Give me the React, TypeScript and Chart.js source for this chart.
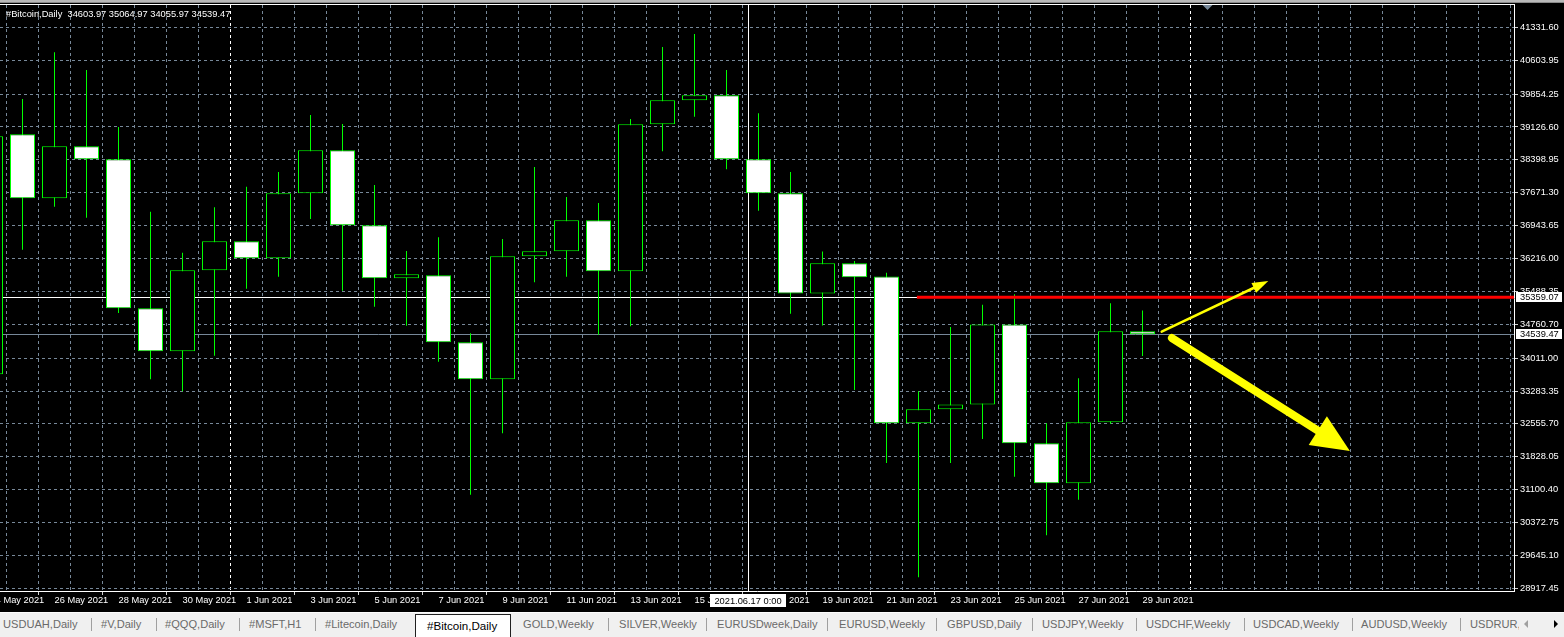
import React, { useEffect, useRef } from 'react';
import { Chart, registerables } from 'chart.js';

Chart.register(...registerables);

const FONT = '"Liberation Sans", Arial, sans-serif';

// ---------- data ----------
const dates = [
  '24 May 2021', '25 May 2021', '26 May 2021', '27 May 2021', '28 May 2021', '29 May 2021', '30 May 2021', '31 May 2021',
  '1 Jun 2021', '2 Jun 2021', '3 Jun 2021', '4 Jun 2021', '5 Jun 2021', '6 Jun 2021', '7 Jun 2021', '8 Jun 2021',
  '9 Jun 2021', '10 Jun 2021', '11 Jun 2021', '12 Jun 2021', '13 Jun 2021', '14 Jun 2021', '15 Jun 2021', '16 Jun 2021',
  '17 Jun 2021', '18 Jun 2021', '19 Jun 2021', '20 Jun 2021', '21 Jun 2021', '22 Jun 2021', '23 Jun 2021', '24 Jun 2021',
  '25 Jun 2021', '26 Jun 2021', '27 Jun 2021', '28 Jun 2021', '29 Jun 2021',
];
const opens = [
  33652, 38964, 37547, 38698, 38411, 35113, 34162, 35954,
  36596, 36220, 37658, 38610, 36950, 35777, 35844, 34361,
  33542, 36264, 36375, 37061, 35932, 39185, 39716, 39827,
  38411, 37658, 35441, 36111, 35820, 32568, 32880, 32987,
  34755, 32126, 31243, 32591, 34603.97,
];
const highs = [
  39300, 39745, 40778, 40387, 39125, 37251, 36344, 37348,
  37804, 38130, 39391, 39192, 37842, 36381, 36684, 34560,
  36647, 38240, 37576, 37444, 39302, 40896, 41183, 40387,
  39431, 38132, 36370, 36158, 35899, 33276, 34702, 35191,
  35425, 32568, 33566, 35228, 35064.97,
];
const lows = [
  33400, 36410, 37362, 37118, 35009, 33542, 33276, 34064,
  35547, 35813, 37089, 35503, 35149, 34728, 33932, 30988,
  32347, 35689, 35813, 34529, 34715, 38588, 39353, 38189,
  37273, 34992, 34733, 33307, 31692, 29163, 31692, 32219,
  31387, 30092, 30878, 32560, 34055.97,
];
const closes = [
  38919, 37547, 38698, 38411, 35113, 34162, 35954, 36596,
  36220, 37658, 38610, 36950, 35777, 35866, 34361, 33542,
  36264, 36375, 37061, 35932, 39185, 39716, 39827, 38411,
  37658, 35441, 36111, 35799, 32568, 32880, 32987, 34755,
  32126, 31243, 32591, 34604, 34539.47,
];
const priceTicks = [
  41331.6, 40603.95, 39854.25, 39126.6, 38398.95, 37671.3, 36943.65, 36216.0, 35488.35,
  34760.7, 34011.0, 33283.35, 32555.7, 31828.05, 31100.4, 30372.75, 29645.1, 28917.45,
];
const symbolName = '#Bitcoin,Daily';
const yMin = 28858.0;
const yMax = 41825.1;
const xMin = 0.296875;
const xMax = 47.609375;
const monthStartIdx = [8, 38];
const shiftMarkerIdx = 38;
const bidPrice = 34539.47;
const crossIdx = 23.68;
const crossPrice = 35359.07;
const crossDateLabel = '2021.06.17 0:00';
const trendStartIdx = 28.95;
const trendPrice = 35359.07;
const arrowThin = [[36.6, 34596], [39.93, 35718]];
const arrowThick = [[36.92, 34456], [42.48, 31956]];

const tabs = [
  'USDUAH,Daily', '#V,Daily', '#QQQ,Daily', '#MSFT,H1', '#Litecoin,Daily', '#Bitcoin,Daily', 'GOLD,Weekly',
  'SILVER,Weekly', 'EURUSDweek,Daily', 'EURUSD,Weekly', 'GBPUSD,Daily', 'USDJPY,Weekly', 'USDCHF,Weekly',
  'USDCAD,Weekly', 'AUDUSD,Weekly', 'USDRUR,Daily',
];
const tabLeft = [3, 101, 165, 249, 325, 427, 523, 619, 717, 839, 947, 1042, 1146, 1253, 1361, 1470];
const tabSeparators = [91, 156, 239, 315, 608, 706, 827, 936, 1032, 1136, 1244, 1352, 1460];
const activeTab = 5;

// ---------- colours ----------
const GRID = '#778899';
const LIME = '#00ff00';

function drawArrow(ctx: CanvasRenderingContext2D, x1: number, y1: number, x2: number, y2: number,
  lw: number, headLen: number, headHalf: number) {
  const dx = x2 - x1, dy = y2 - y1;
  const L = Math.hypot(dx, dy);
  const ux = dx / L, uy = dy / L;
  const bx = x2 - ux * headLen, by = y2 - uy * headLen;
  ctx.lineWidth = lw;
  ctx.lineCap = 'round';
  ctx.beginPath();
  ctx.moveTo(x1, y1);
  ctx.lineTo(bx + ux * 2, by + uy * 2);
  ctx.stroke();
  ctx.beginPath();
  ctx.moveTo(x2, y2);
  ctx.lineTo(bx - uy * headHalf, by + ux * headHalf);
  ctx.lineTo(bx + uy * headHalf, by - ux * headHalf);
  ctx.closePath();
  ctx.fill();
}

const mt4Plugin = {
  id: 'mt4',
  beforeDraw(chart: any) {
    const { ctx, width, height } = chart;
    ctx.save();
    ctx.fillStyle = '#000000';
    ctx.fillRect(0, 0, width, height);
    ctx.fillStyle = '#b9b9b9';
    ctx.fillRect(0, 0, width, 2);
    ctx.fillStyle = '#8a8a8a';
    ctx.fillRect(0, 2, width, 1);
    ctx.restore();
  },
  beforeDatasetsDraw(chart: any) {
    const { ctx, chartArea: a, scales: { x, y } } = chart;
    ctx.save();
    // bid line
    const by = Math.round(y.getPixelForValue(bidPrice)) + 0.5;
    ctx.strokeStyle = GRID;
    ctx.lineWidth = 1;
    ctx.beginPath();
    ctx.moveTo(a.left, by);
    ctx.lineTo(a.right, by);
    ctx.stroke();
    // crosshair
    const cx = Math.round(x.getPixelForValue(crossIdx)) + 0.5;
    const cy = Math.floor(y.getPixelForValue(crossPrice)) + 0.5;
    ctx.strokeStyle = '#ffffff';
    ctx.beginPath();
    ctx.moveTo(a.left, cy);
    ctx.lineTo(a.right, cy);
    ctx.moveTo(cx, a.top);
    ctx.lineTo(cx, a.bottom);
    ctx.stroke();
    ctx.restore();
  },
  afterDatasetsDraw(chart: any) {
    const { ctx, chartArea: a, scales: { x, y } } = chart;
    ctx.save();
    ctx.beginPath();
    ctx.rect(a.left, a.top, a.right - a.left, a.bottom - a.top);
    ctx.clip();
    ctx.strokeStyle = '#ffff00';
    ctx.fillStyle = '#ffff00';
    drawArrow(ctx,
      x.getPixelForValue(arrowThin[0][0]), y.getPixelForValue(arrowThin[0][1]),
      x.getPixelForValue(arrowThin[1][0]), y.getPixelForValue(arrowThin[1][1]), 2.5, 16, 5.5);
    drawArrow(ctx,
      x.getPixelForValue(arrowThick[0][0]), y.getPixelForValue(arrowThick[0][1]),
      x.getPixelForValue(arrowThick[1][0]), y.getPixelForValue(arrowThick[1][1]), 8, 38, 17);
    ctx.restore();
    ctx.save();
    // top frame line
    ctx.fillStyle = '#ffffff';
    ctx.fillRect(a.left, a.top - 1, a.right - a.left + 1, 1);
    // chart shift marker
    const sx = Math.round(x.getPixelForValue(shiftMarkerIdx)) + 0.5;
    ctx.fillStyle = GRID;
    ctx.beginPath();
    ctx.moveTo(sx - 5, a.top);
    ctx.lineTo(sx + 5, a.top);
    ctx.lineTo(sx, a.top + 5);
    ctx.closePath();
    ctx.fill();
    ctx.restore();
  },
  afterDraw(chart: any) {
    const { ctx, chartArea: a, scales: { x, y } } = chart;
    ctx.save();
    ctx.font = `9.3px ${FONT}`;
    ctx.textBaseline = 'middle';
    // title
    const n = closes.length - 1;
    const title = `${symbolName}  ${opens[n].toFixed(2)} ${highs[n].toFixed(2)} ${lows[n].toFixed(2)} ${closes[n].toFixed(2)}`;
    ctx.fillStyle = '#ffffff';
    ctx.textAlign = 'left';
    ctx.fillText(title, 6, 14);
    // price boxes on the right axis
    const boxes = [crossPrice, bidPrice];
    boxes.forEach((p) => {
      const py = Math.round(y.getPixelForValue(p));
      ctx.fillStyle = '#ffffff';
      ctx.fillRect(a.right + 2, py - 5, 46, 10);
      ctx.fillStyle = '#000000';
      ctx.fillText(p.toFixed(2), a.right + 6, py + 0.5);
    });
    // crosshair date box
    const cx = Math.round(x.getPixelForValue(crossIdx));
    ctx.fillStyle = '#ffffff';
    ctx.fillRect(cx - 38, a.bottom + 3, 76, 13);
    ctx.fillStyle = '#000000';
    ctx.textAlign = 'center';
    ctx.fillText(crossDateLabel, cx, a.bottom + 10);
    ctx.restore();
  },
};

export default function App() {
  const ref = useRef<HTMLCanvasElement>(null);

  useEffect(() => {
    const bodies = dates.map((_, i) => ({ x: i, y: [opens[i], closes[i]] }));
    const wicks = dates.map((_, i) => ({ x: i, y: [lows[i], highs[i]] }));
    const bodyFill = dates.map((_, i) => (closes[i] >= opens[i] ? '#000000' : '#ffffff'));
    const isLabelled = (v: number) => v >= 0 && v < dates.length && v % 2 === 0;

    const chart = new Chart(ref.current as HTMLCanvasElement, {
      type: 'bar',
      data: {
        datasets: [
          {
            type: 'line',
            data: [{ x: trendStartIdx, y: trendPrice }, { x: xMax, y: trendPrice }],
            borderColor: '#ff0000',
            borderWidth: 3,
            pointRadius: 0,
            order: 0,
          } as any,
          {
            data: bodies as any,
            backgroundColor: bodyFill,
            borderColor: LIME,
            borderWidth: 1,
            borderSkipped: false,
            barThickness: 25,
            maxBarThickness: 25,
            grouped: false,
            inflateAmount: 0,
            order: 1,
          } as any,
          {
            data: wicks as any,
            backgroundColor: LIME,
            borderWidth: 0,
            barThickness: 1,
            maxBarThickness: 1,
            grouped: false,
            inflateAmount: 0,
            order: 2,
          } as any,
        ],
      },
      options: {
        responsive: false,
        maintainAspectRatio: false,
        animation: false,
        devicePixelRatio: 1,
        events: [],
        layout: { padding: { top: 5, left: 0, right: 0, bottom: 0 } },
        plugins: { legend: { display: false }, tooltip: { enabled: false }, title: { display: false } },
        scales: {
          x: {
            type: 'linear',
            position: 'bottom',
            min: xMin,
            max: xMax,
            offset: false,
            afterBuildTicks: (s: any) => {
              const t = [];
              for (let i = 0; i <= Math.ceil(xMax); i++) t.push({ value: i });
              s.ticks = t;
            },
            afterFit: (s: any) => {
              s.height = 21;
              s.paddingLeft = 0;
              s.paddingRight = 0;
            },
            ticks: {
              color: '#ffffff',
              align: 'start',
              autoSkip: false,
              maxRotation: 0,
              minRotation: 0,
              padding: 0,
              font: { family: FONT, size: 9.3 },
              callback: (v: any) => (isLabelled(Number(v)) ? dates[Number(v)] : ''),
            },
            grid: {
              color: (c: any) => (c.tick && monthStartIdx.includes(c.tick.value) ? '#ffffff' : GRID),
              lineWidth: 1,
              drawTicks: true,
              tickLength: 4,
              tickBorderDash: [],
              tickColor: (c: any) => (c.tick && isLabelled(c.tick.value) ? '#d0d0d0' : 'rgba(0,0,0,0)'),
            },
            border: { display: true, color: '#ffffff', width: 1, dash: [3, 3] },
          },
          y: {
            type: 'linear',
            position: 'right',
            min: yMin,
            max: yMax,
            afterBuildTicks: (s: any) => {
              s.ticks = priceTicks.map((v) => ({ value: v }));
            },
            afterFit: (s: any) => {
              s.width = 50;
              s.paddingTop = 0;
              s.paddingBottom = 0;
            },
            ticks: {
              color: '#ffffff',
              padding: 2,
              autoSkip: false,
              font: { family: FONT, size: 9.3 },
              callback: (v: any) => Number(v).toFixed(2),
            },
            grid: {
              color: GRID,
              lineWidth: 1,
              drawTicks: true,
              tickLength: 4,
              tickBorderDash: [],
              tickColor: '#d0d0d0',
            },
            border: { display: true, color: '#ffffff', width: 1, dash: [3, 3] },
          },
        },
      } as any,
      plugins: [mt4Plugin],
    });
    return () => chart.destroy();
  }, []);

  return (
    <div style={{ position: 'fixed', left: 0, top: 0, width: 1564, height: 637, background: '#000', overflow: 'hidden', fontFamily: FONT }}>
      <canvas ref={ref} width={1564} height={612} style={{ display: 'block', width: 1564, height: 612 }} />
      <div style={{ position: 'absolute', left: 0, top: 612, width: 1564, height: 25, background: '#f0f0f0', borderTop: '1px solid #fcfcfc', boxSizing: 'border-box' }}>
        <div style={{ position: 'absolute', left: 0, top: 0, width: 1519, height: 25, overflow: 'hidden' }}>
          {tabs.map((t, i) => (
            i === activeTab ? (
              <div key={t} style={{ position: 'absolute', left: 415, top: 1, width: 96, height: 24, background: '#ffffff', border: '1px solid #202020', borderBottom: 'none', boxSizing: 'border-box' }}>
                <span style={{ position: 'absolute', left: tabLeft[i] - 416, top: 0, lineHeight: '21px', fontSize: 11.6, color: '#000', whiteSpace: 'nowrap' }}>{t}</span>
              </div>
            ) : (
              <span key={t} style={{ position: 'absolute', left: tabLeft[i], top: 0, lineHeight: '22px', fontSize: 11.1, color: '#6a6a6a', whiteSpace: 'nowrap' }}>{t}</span>
            )
          ))}
          {tabSeparators.map((sx) => (
            <div key={sx} style={{ position: 'absolute', left: sx, top: 5, width: 1, height: 13, background: '#a0a0a0' }} />
          ))}
        </div>
        <div style={{ position: 'absolute', left: 1524, top: 7, width: 0, height: 0, borderTop: '4px solid transparent', borderBottom: '4px solid transparent', borderRight: '4px solid #a0a0a0' }} />
        <div style={{ position: 'absolute', left: 1554, top: 7, width: 0, height: 0, borderTop: '4px solid transparent', borderBottom: '4px solid transparent', borderLeft: '4px solid #000' }} />
      </div>
    </div>
  );
}
